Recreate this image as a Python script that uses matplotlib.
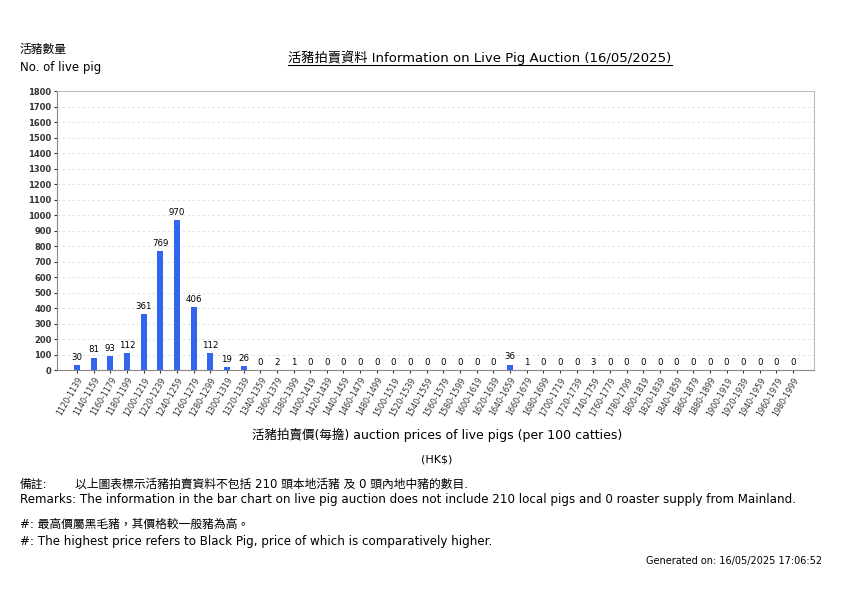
import numpy as np
import matplotlib.pyplot as plt
from matplotlib.lines import Line2D

plt.rcParams['font.family'] = ['DejaVu Sans', 'Noto Sans CJK TC']

price_starts = list(range(1120, 2000, 20))
price_labels = ["%d-%d" % (p, p + 19) for p in price_starts]
pig_counts = [30, 81, 93, 112, 361, 769, 970, 406, 112, 19, 26, 0, 2, 1,
              0, 0, 0, 0, 0, 0, 0, 0, 0, 0, 0, 0, 36, 1, 0, 0, 0, 3,
              0, 0, 0, 0, 0, 0, 0, 0, 0, 0, 0, 0]
y_ticks = list(range(0, 1900, 100))

title = "活豬拍賣資料 Information on Live Pig Auction (16/05/2025)"
x_title = "活豬拍賣價(每擔) auction prices of live pigs (per 100 catties)"
remark_zh = "以上圖表標示活豬拍賣資料不包括 210 頭本地活豬 及 0 頭內地中豬的數目."
remark_en = ("Remarks: The information in the bar chart on live pig auction does not "
             "include 210 local pigs and 0 roaster supply from Mainland.")
note_zh = "#: 最高價屬黑毛豬，其價格較一般豬為高。"
note_en = "#: The highest price refers to Black Pig, price of which is comparatively higher."
generated = "Generated on: 16/05/2025 17:06:52"

fig = plt.figure(figsize=(8.42, 5.95), dpi=100)
ax = fig.add_axes([0.0677, 0.378, 0.899, 0.469])

x = np.arange(len(pig_counts))
ax.bar(x, pig_counts, width=0.36, color="#3366ee", zorder=3)
for xi, v in zip(x, pig_counts):
    ax.text(xi, v + 20, str(v), ha="center", va="bottom", fontsize=6.2, zorder=4)

ax.set_xlim(-1.2, len(pig_counts) - 1 + 1.25)
ax.set_ylim(0, 1800)
ax.set_yticks(y_ticks)
ax.set_yticklabels([str(t) for t in y_ticks], fontsize=6, fontweight="bold")
ax.set_xticks(x)
ax.set_xticklabels(price_labels, rotation=60, ha="right", rotation_mode="anchor",
                   fontsize=5.8)
ax.tick_params(axis="both", length=2, pad=2, colors="#333333")
ax.yaxis.grid(True, linestyle=(0, (3, 3)), color="#dddddd", linewidth=0.6, zorder=0)
for side in ["top", "right"]:
    ax.spines[side].set_color("#bbbbbb")
ax.spines["left"].set_color("#888888")
ax.spines["bottom"].set_color("#888888")

fig.text(20 / 842, 1 - 49 / 595, "活豬數量", fontsize=8.5, va="center")
fig.text(20 / 842, 1 - 67 / 595, "No. of live pig", fontsize=8.5, va="center")

t = fig.text(480 / 842, 1 - 58 / 595, title, fontsize=9.5, ha="center", va="center")

fig.text(437 / 842, 1 - 435 / 595, x_title, fontsize=9, ha="center", va="center")
fig.text(437 / 842, 1 - 459 / 595, "(HK$)", fontsize=8, ha="center", va="center")

fig.text(20 / 842, 1 - 484 / 595, "備註:", fontsize=8.5, va="center")
fig.text(75 / 842, 1 - 484 / 595, remark_zh, fontsize=8.5, va="center")
fig.text(20 / 842, 1 - 500 / 595, remark_en, fontsize=8.6, va="center")
fig.text(20 / 842, 1 - 524 / 595, note_zh, fontsize=8.5, va="center")
fig.text(20 / 842, 1 - 542 / 595, note_en, fontsize=8.6, va="center")
fig.text(822 / 842, 1 - 561 / 595, generated, fontsize=7, ha="right", va="center")

# underline the title
fig.canvas.draw()
bb = t.get_window_extent().transformed(fig.transFigure.inverted())
fig.add_artist(Line2D([bb.x0, bb.x1], [bb.y0, bb.y0], transform=fig.transFigure,
                      color="black", linewidth=0.8))

fig.savefig("out.png", dpi=100, facecolor="white")
